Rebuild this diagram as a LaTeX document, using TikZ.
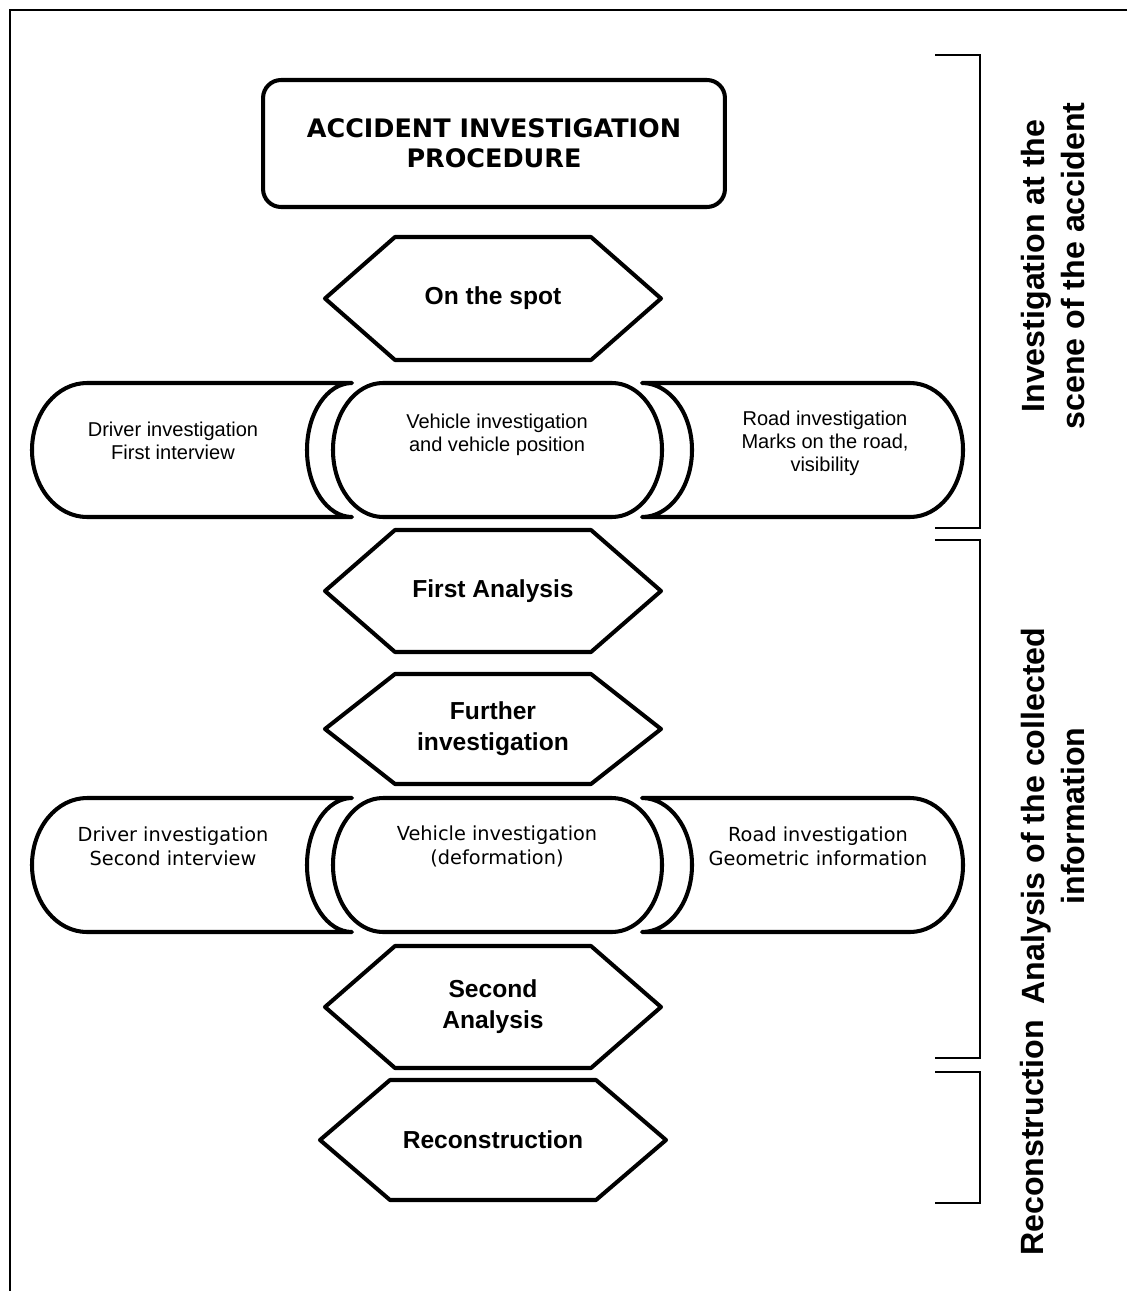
\documentclass[tikz,border=0pt]{standalone}
\usepackage{fontspec}
\setmainfont{Liberation Sans}
\newfontfamily\verdfont{DejaVu Sans}
\usetikzlibrary{calc,positioning}
\tikzset{%
	shapeline/.style = {line width=2.3pt, line join=round}, % Outline
	procbox/.style   = {draw, line width=2.3pt, rounded corners=0.36cm, minimum width=9.24cm, minimum height=2.54cm, align=center, font=\verdfont\bfseries\fontsize{14.5}{17}\selectfont},
	hexlabel/.style  = {align=center, font=\bfseries\fontsize{14}{17.6}\selectfont},
	rowtext/.style   = {align=center, font=\fontsize{11.4}{13.1}\selectfont},
	rowtextv/.style  = {align=center, font=\verdfont\fontsize{11}{13.7}\selectfont},
	phaselabel/.style= {rotate=90, align=center, font=\bfseries\fontsize{18.3}{22.8}\selectfont},
	bracketline/.style = {line width=0.9pt},
}
% hexagon round a node: node, half width, half height
\newcommand{\hexframe}[3]{%
	\draw[shapeline] ($(#1)+(-#2,0)$) -- ($(#1)+(70-#2,-#3)$) -- ($(#1)+(#2-70,-#3)$) -- ($(#1)+(#2,0)$) -- ($(#1)+(#2-70,#3)$) -- ($(#1)+(70-#2,#3)$) -- cycle;}
% the three pieces of a row, centre height given
\newcommand{\rowpieces}[1]{%
	\draw[shapeline] (87,#1-67) -- (352,#1-67) arc[start angle=270, end angle=90, x radius=45, y radius=67] -- (87,#1+67) arc[start angle=90, end angle=270, x radius=55, y radius=67] -- cycle;
	\draw[shapeline] (383,#1-67) -- (612,#1-67) arc[start angle=270, end angle=450, x radius=50, y radius=67] -- (383,#1+67) arc[start angle=90, end angle=270, x radius=50, y radius=67] -- cycle;
	\draw[shapeline] (642,#1-67) -- (910,#1-67) arc[start angle=-90, end angle=90, x radius=53, y radius=67] -- (642,#1+67) arc[start angle=90, end angle=-90, x radius=50, y radius=67] -- cycle;}

\begin{document}
\begin{tikzpicture}[x=0.02cm, y=-0.02cm]
	\useasboundingbox (0,0) rectangle (1127,1291);
	\draw[line width=1.3pt] (1127,10) -- (10,10) -- (10,1291);
	
	\node[procbox] (title) at (494,143.5) {ACCIDENT INVESTIGATION\\PROCEDURE};
	
	\node[hexlabel] (spot) at (493,298.5) {On the spot};
	\hexframe{spot}{168}{61.5}
	
	\rowpieces{450}
	\node[rowtext] (driver1) at (173,441) {Driver investigation\\First interview};
	\node[rowtext] (vehicle1) at (497,435) {Vehicle investigation\\and vehicle position};
	\node[rowtext] (road1) at (825,443) {Road investigation\\Marks on the road,\\visibility};
	
	\node[hexlabel] (first) at (493,591) {First Analysis};
	\hexframe{first}{168}{61}
	\node[hexlabel] (further) at (493,729) {Further\\investigation};
	\hexframe{further}{168}{55}
	
	\rowpieces{865}
	\node[rowtextv] (driver2) at (173,846) {Driver investigation\\Second interview};
	\node[rowtextv] (vehicle2) at (497,846) {Vehicle investigation\\(deformation)};
	\node[rowtextv] (road2) at (818,846) {Road investigation\\Geometric information};
	
	\node[hexlabel] (second) at (493,1007) {Second\\Analysis};
	\hexframe{second}{168}{61}
	\node[hexlabel] (recon) at (493,1140) {Reconstruction};
	\hexframe{recon}{173}{60}
	
	\draw[bracketline] (935,55) -| (980,528) -- (935,528);
	\draw[bracketline] (935,540) -| (980,1058) -- (935,1058);
	\draw[bracketline] (935,1072) -| (980,1203) -- (935,1203);
	\node[phaselabel] (scene) at (1053,266) {Investigation at the\\scene of the accident};
	\node[phaselabel] (analysis) at (1053,816) {Analysis of the collected\\information};
	\node[phaselabel] (reconlabel) at (1032,1138) {Reconstruction};
\end{tikzpicture}
\end{document}
